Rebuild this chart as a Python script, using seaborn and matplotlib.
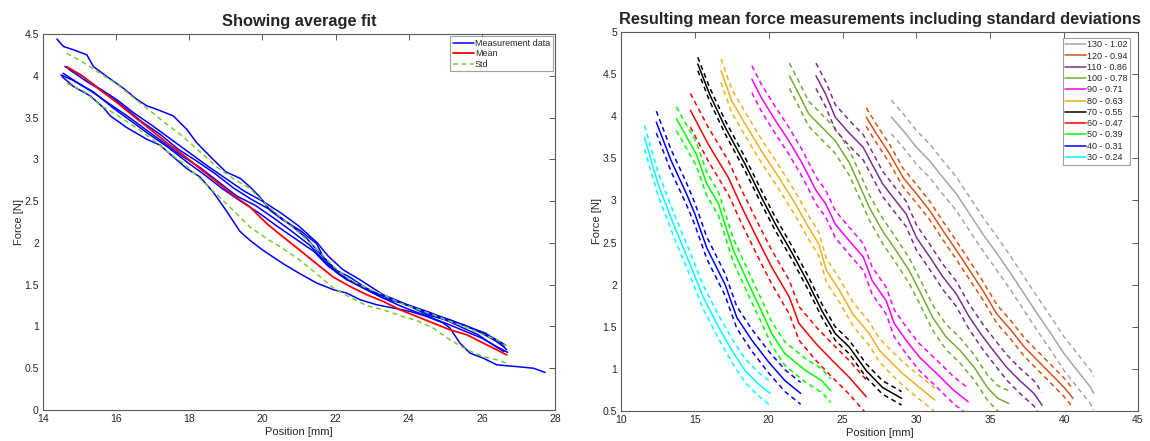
import numpy as np
import pandas as pd
import matplotlib
matplotlib.use("Agg")
import matplotlib.pyplot as plt
import seaborn as sns
from matplotlib.lines import Line2D

# ---------------- Left panel data ----------------
A_X = [14.38, 14.56, 14.84, 15.2, 15.38, 15.75, 16.2, 16.56, 16.84, 17.1, 17.56, 17.93, 18.2, 18.65, 19.0, 19.4,
       19.66, 19.93, 20.21, 20.57, 21.03, 21.48, 21.67, 22.03, 22.39, 22.76, 23.12, 23.58, 24.04, 24.49, 25.13,
       25.59, 26.04, 26.41, 26.63]
A_Y = [4.44, 4.35, 4.31, 4.25, 4.11, 3.99, 3.85, 3.72, 3.64, 3.6, 3.52, 3.36, 3.2, 3.0, 2.85, 2.77,
       2.67, 2.55, 2.39, 2.27, 2.15, 1.99, 1.83, 1.67, 1.59, 1.48, 1.39, 1.32, 1.24, 1.16, 1.08,
       1.0, 0.92, 0.84, 0.78]
B_X = [14.52, 14.84, 15.29, 15.65, 15.84, 16.29, 16.84, 17.2, 17.56, 17.93, 18.29, 18.65, 19.02, 19.38,
       19.66, 20.02, 20.57, 21.03, 21.48, 21.94, 22.3, 22.67, 23.12, 23.58, 24.04, 24.49, 24.95, 25.13,
       25.4, 25.68, 26.04, 26.41, 26.95, 27.41, 27.73]
B_Y = [3.99, 3.87, 3.76, 3.62, 3.52, 3.38, 3.24, 3.17, 3.03, 2.89, 2.79, 2.61, 2.38, 2.14,
       2.03, 1.91, 1.75, 1.63, 1.52, 1.44, 1.4, 1.32, 1.26, 1.22, 1.18, 1.12, 1.04, 0.98,
       0.8, 0.68, 0.62, 0.54, 0.52, 0.5, 0.45]
C_X = [14.6, 15.0, 15.5, 16.0, 16.5, 17.0, 17.5, 18.0, 18.5, 19.0, 19.5, 20.0, 20.5, 21.0, 21.5, 21.8, 22.2,
       22.7, 23.3, 23.9, 24.5, 25.1, 25.6, 26.1, 26.5, 26.68]
C_Y = [4.11, 4.02, 3.86, 3.72, 3.55, 3.4, 3.24, 3.08, 2.92, 2.77, 2.62, 2.5, 2.36, 2.2, 2.0, 1.84, 1.68,
       1.55, 1.38, 1.27, 1.18, 1.08, 1.0, 0.92, 0.8, 0.72]
D_X = [14.49, 14.8, 15.3, 15.8, 16.3, 16.8, 17.3, 17.8, 18.3, 18.8, 19.3, 19.8, 20.3, 20.8, 21.3, 21.7, 22.1,
       22.6, 23.2, 23.8, 24.4, 25.0, 25.5, 26.0, 26.4, 26.7]
D_Y = [4.01, 3.95, 3.82, 3.67, 3.52, 3.36, 3.2, 3.04, 2.9, 2.73, 2.56, 2.45, 2.3, 2.14, 1.97, 1.78, 1.62,
       1.5, 1.36, 1.24, 1.14, 1.04, 0.95, 0.86, 0.76, 0.69]
E_X = [14.55, 14.9, 15.4, 15.9, 16.4, 16.9, 17.4, 17.9, 18.4, 18.9, 19.4, 19.9, 20.4, 20.9, 21.4, 21.8, 22.3,
       22.8, 23.3, 23.8, 24.3, 24.9, 25.4, 25.9, 26.3, 26.6]
E_Y = [4.03, 3.93, 3.8, 3.62, 3.46, 3.3, 3.15, 2.98, 2.82, 2.65, 2.5, 2.36, 2.2, 2.05, 1.9, 1.72, 1.56,
       1.45, 1.34, 1.28, 1.2, 1.1, 1.0, 0.9, 0.78, 0.7]
F_X = [14.7, 15.2, 15.7, 16.2, 16.7, 17.2, 17.7, 18.2, 18.7, 19.2, 19.7, 20.2, 20.7, 21.2, 21.6, 22.0, 22.5,
       23.0, 23.5, 24.0, 24.5, 25.0, 25.5, 26.0, 26.4, 26.62]
F_Y = [4.08, 3.93, 3.8, 3.63, 3.45, 3.3, 3.12, 2.98, 2.83, 2.66, 2.52, 2.4, 2.24, 2.06, 1.86, 1.66, 1.52,
       1.42, 1.34, 1.25, 1.14, 1.08, 1.02, 0.92, 0.82, 0.75]

MEAN_X = [14.65, 15.1, 15.56, 16.02, 16.47, 16.93, 17.38, 17.84, 18.29, 18.75, 19.2, 19.66, 20.12, 20.57,
          21.03, 21.48, 21.94, 22.39, 22.85, 23.3, 23.76, 24.22, 24.67, 25.13, 25.59, 26.04, 26.41, 26.68]
MEAN_Y = [4.11, 3.99, 3.83, 3.68, 3.52, 3.36, 3.2, 3.05, 2.89, 2.73, 2.57, 2.43, 2.23, 2.07,
          1.91, 1.75, 1.59, 1.48, 1.38, 1.3, 1.2, 1.12, 1.04, 0.96, 0.9, 0.8, 0.72, 0.66]
STD_UP = [0.16, 0.17, 0.2, 0.22, 0.22, 0.22, 0.22, 0.22, 0.2, 0.18, 0.2, 0.22, 0.22, 0.21,
          0.2, 0.18, 0.13, 0.08, 0.08, 0.08, 0.08, 0.09, 0.1, 0.1, 0.09, 0.1, 0.12, 0.11]
STD_LO = [0.2, 0.17, 0.18, 0.15, 0.12, 0.1, 0.1, 0.1, 0.12, 0.15, 0.18, 0.24, 0.18, 0.14,
          0.12, 0.12, 0.13, 0.13, 0.13, 0.1, 0.07, 0.05, 0.06, 0.12, 0.18, 0.16, 0.12, 0.1]

LEFT_XTICKS = [14, 16, 18, 20, 22, 24, 26, 28]
LEFT_YTICKS = [0, 0.5, 1, 1.5, 2, 2.5, 3, 3.5, 4, 4.5]
LEFT_YTICKLABELS = ["0", "0.5", "1", "1.5", "2", "2.5", "3", "3.5", "4", "4.5"]

# ---------------- Right panel data ----------------
R_LABELS = ["30 - 0.24", "40 - 0.31", "50 - 0.39", "60 - 0.47", "70 - 0.55", "80 - 0.63",
            "90 - 0.71", "100 - 0.78", "110 - 0.86", "120 - 0.94", "130 - 1.02"]
R_COLORS = ["#00FFFF", "#0000FF", "#00FF00", "#FF0000", "#000000", "#EDB120",
            "#FF00FF", "#77AC30", "#7E2F8E", "#D95319", "#A6A6A6"]

S30_X = [11.59, 12.5, 13.64, 14.66, 15.57, 16.6, 17.5, 18.4, 19.3, 20.1]
S30_Y = [3.75, 3.2, 2.68, 2.25, 1.85, 1.50, 1.22, 0.98, 0.82, 0.71]
S40_X = [12.39, 13.4, 14.43, 15.0, 15.8, 17.05, 17.84, 18.86, 20.0, 21.1, 22.16]
S40_Y = [3.93, 3.47, 3.08, 2.84, 2.44, 2.0, 1.61, 1.34, 1.08, 0.86, 0.71]
S50_X = [13.75, 15.1, 15.8, 16.6, 17.6, 18.64, 19.5, 20.2, 21.1, 22.5, 23.6, 24.2]
S50_Y = [3.97, 3.55, 3.2, 2.96, 2.41, 2.01, 1.69, 1.42, 1.18, 0.98, 0.86, 0.74]
S60_X = [14.7, 15.9, 17.27, 18.18, 19.3, 20.2, 21.4, 22.05, 23.2, 24.3, 25.45, 26.6]
S60_Y = [4.07, 3.67, 3.27, 2.92, 2.52, 2.21, 1.85, 1.54, 1.30, 1.10, 0.90, 0.67]
S70_X = [15.2, 16.0, 17.05, 18.4, 19.5, 20.45, 21.6, 22.7, 23.6, 24.5, 25.45, 26.6, 27.7, 29.0]
S70_Y = [4.62, 4.26, 3.87, 3.43, 3.04, 2.72, 2.37, 2.01, 1.69, 1.42, 1.26, 0.98, 0.78, 0.65]
S80_X = [16.77, 17.5, 18.4, 19.5, 20.7, 21.8, 22.7, 23.4, 23.9, 24.8, 25.7, 26.8, 27.5, 28.4, 29.1, 30.2, 31.25]
S80_Y = [4.54, 4.18, 3.91, 3.59, 3.27, 2.96, 2.68, 2.48, 2.17, 1.93, 1.65, 1.42, 1.22, 1.06, 0.94, 0.78, 0.63]
S90_X = [18.86, 19.5, 20.45, 21.36, 22.3, 23.2, 23.86, 24.5, 25.45, 26.4, 27.0, 27.95, 28.5, 29.3, 30.2,
         31.4, 32.5, 33.5]
S90_Y = [4.44, 4.22, 3.95, 3.71, 3.43, 3.12, 2.96, 2.72, 2.52, 2.33, 2.05, 1.81, 1.54, 1.34, 1.14,
         0.94, 0.75, 0.61]
S100_X = [21.4, 22.05, 22.7, 23.6, 24.5, 25.45, 26.1, 26.8, 27.7, 28.6, 29.5, 30.2, 31.1, 32.0, 32.95,
          33.9, 34.8, 35.5, 36.25]
S100_Y = [4.48, 4.26, 4.03, 3.87, 3.71, 3.45, 3.2, 2.92, 2.64, 2.41, 2.17, 1.93, 1.61, 1.38, 1.22,
          1.02, 0.78, 0.65, 0.59]
S110_X = [23.2, 23.86, 24.5, 25.45, 26.4, 27.0, 27.7, 28.4, 29.3, 30.0, 30.9, 31.8, 32.7, 33.6, 34.5,
          35.2, 36.1, 37.0, 37.95, 38.5]
S110_Y = [4.48, 4.26, 3.99, 3.8, 3.63, 3.43, 3.2, 3.04, 2.84, 2.56, 2.33, 2.09, 1.89, 1.61, 1.38,
          1.22, 1.02, 0.86, 0.71, 0.57]
S120_X = [26.6, 27.3, 28.2, 29.1, 30.0, 30.9, 31.8, 32.7, 33.6, 34.5, 35.45, 36.4, 37.3, 38.2, 39.1,
          40.0, 40.6]
S120_Y = [3.99, 3.79, 3.55, 3.27, 3.08, 2.88, 2.64, 2.41, 2.17, 1.93, 1.65, 1.46, 1.26, 1.1, 0.94,
          0.78, 0.65]
S130_X = [28.3, 29.1, 30.0, 30.9, 31.8, 32.7, 33.6, 34.5, 35.45, 36.4, 37.3, 38.2, 39.1, 40.0, 40.9,
          41.8, 42.0]
S130_Y = [3.99, 3.83, 3.63, 3.47, 3.27, 3.08, 2.84, 2.6, 2.37, 2.13, 1.89, 1.65, 1.42, 1.18, 0.98,
          0.78, 0.71]
R_STD = [0.14, 0.13, 0.14, 0.2, 0.08, 0.14, 0.16, 0.15, 0.15, 0.11, 0.2]

RIGHT_XTICKS = [10, 15, 20, 25, 30, 35, 40, 45]
RIGHT_YTICKS = [0.5, 1, 1.5, 2, 2.5, 3, 3.5, 4, 4.5, 5]
RIGHT_YTICKLABELS = ["0.5", "1", "1.5", "2", "2.5", "3", "3.5", "4", "4.5", "5"]

# ---------------- Styling ----------------
sns.set_theme(style="white")
plt.rcParams['font.family'] = ['Liberation Sans', 'DejaVu Sans']
plt.rcParams['axes.unicode_minus'] = False

W, H = 1150, 441
fig = plt.figure(figsize=(W / 100, H / 100), dpi=100)
axL = fig.add_axes([43 / W, 31 / H, 512 / W, 376 / H])
axR = fig.add_axes([621 / W, 30 / H, 517 / W, 379 / H])

LW = 1.1
DASH = (0, (3.2, 2.4))
STD_GREEN = "#74CF2F"


def draw(ax, x, y, color, ls="-", lw=LW):
    df = pd.DataFrame({"x": x, "y": y})
    sns.lineplot(data=df, x="x", y="y", ax=ax, color=color, linestyle=ls, linewidth=lw,
                 sort=False, estimator=None, legend=False)


# Left panel
for xs, ys in [(A_X, A_Y), (B_X, B_Y), (C_X, C_Y), (D_X, D_Y), (E_X, E_Y), (F_X, F_Y)]:
    draw(axL, xs, ys, "#0000FF")
mx = np.array(MEAN_X)
my = np.array(MEAN_Y)
draw(axL, mx, my + np.array(STD_UP), STD_GREEN, ls=DASH)
draw(axL, mx, my - np.array(STD_LO), STD_GREEN, ls=DASH)
draw(axL, mx, my, "#FF0000", lw=1.3)

# Right panel
series = [(S30_X, S30_Y), (S40_X, S40_Y), (S50_X, S50_Y), (S60_X, S60_Y), (S70_X, S70_Y),
          (S80_X, S80_Y), (S90_X, S90_Y), (S100_X, S100_Y), (S110_X, S110_Y), (S120_X, S120_Y),
          (S130_X, S130_Y)]
for (xs, ys), col, sd in zip(series, R_COLORS, R_STD):
    ya = np.array(ys)
    draw(axR, xs, ya, col)
    draw(axR, xs, ya + sd, col, ls=DASH)
    draw(axR, xs, ya - sd, col, ls=DASH)

SPINE = "#5a5a5a"
TXT = "#262626"
for ax in (axL, axR):
    for s in ax.spines.values():
        s.set_color(SPINE)
        s.set_linewidth(0.8)
        s.set_visible(True)
    ax.tick_params(direction="in", top=True, right=True, length=4, width=0.7,
                   color=SPINE, labelcolor=TXT, labelsize=7.5, pad=3)
    ax.set_xlabel("Position [mm]", fontsize=8, color=TXT, labelpad=2)
    ax.set_ylabel("Force [N]", fontsize=8, color=TXT, labelpad=0.5)
    ax.grid(False)

axL.set_xlim(14, 28)
axL.set_ylim(0, 4.5)
axL.set_xticks(LEFT_XTICKS)
axL.set_xticklabels([str(v) for v in LEFT_XTICKS])
axL.set_yticks(LEFT_YTICKS)
axL.set_yticklabels(LEFT_YTICKLABELS)
axL.set_title("Showing average fit", fontsize=11.8, fontweight="bold", pad=6)

axR.set_xlim(10, 45)
axR.set_ylim(0.5, 5)
axR.set_xticks(RIGHT_XTICKS)
axR.set_xticklabels([str(v) for v in RIGHT_XTICKS])
axR.set_yticks(RIGHT_YTICKS)
axR.set_yticklabels(RIGHT_YTICKLABELS)
axR.set_title("Resulting mean force measurements including standard deviations",
              fontsize=11.8, fontweight="bold", pad=6)

# Legends
hL = [Line2D([], [], color="#0000FF", lw=LW), Line2D([], [], color="#FF0000", lw=1.3),
      Line2D([], [], color=STD_GREEN, lw=LW, ls=DASH)]
legL = axL.legend(hL, ["Measurement data", "Mean", "Std"], loc="upper right", fontsize=6.5,
                  frameon=True, fancybox=False, edgecolor="#8a8a8a", handlelength=2.3,
                  handletextpad=0.1, labelspacing=0.15, borderpad=0.3, borderaxespad=0.25)
legL.get_frame().set_linewidth(0.8)

hR = [Line2D([], [], color=c, lw=LW) for c in R_COLORS][::-1]
legR = axR.legend(hR, R_LABELS[::-1], loc="upper right", bbox_to_anchor=(0.985, 0.985),
                  fontsize=6.5, frameon=True, fancybox=False, edgecolor="#8a8a8a",
                  handlelength=2.3, handletextpad=0.1, labelspacing=0.25, borderpad=0.3,
                  borderaxespad=0.0)
legR.get_frame().set_linewidth(0.8)

fig.savefig("out.png", dpi=100, facecolor="white")
